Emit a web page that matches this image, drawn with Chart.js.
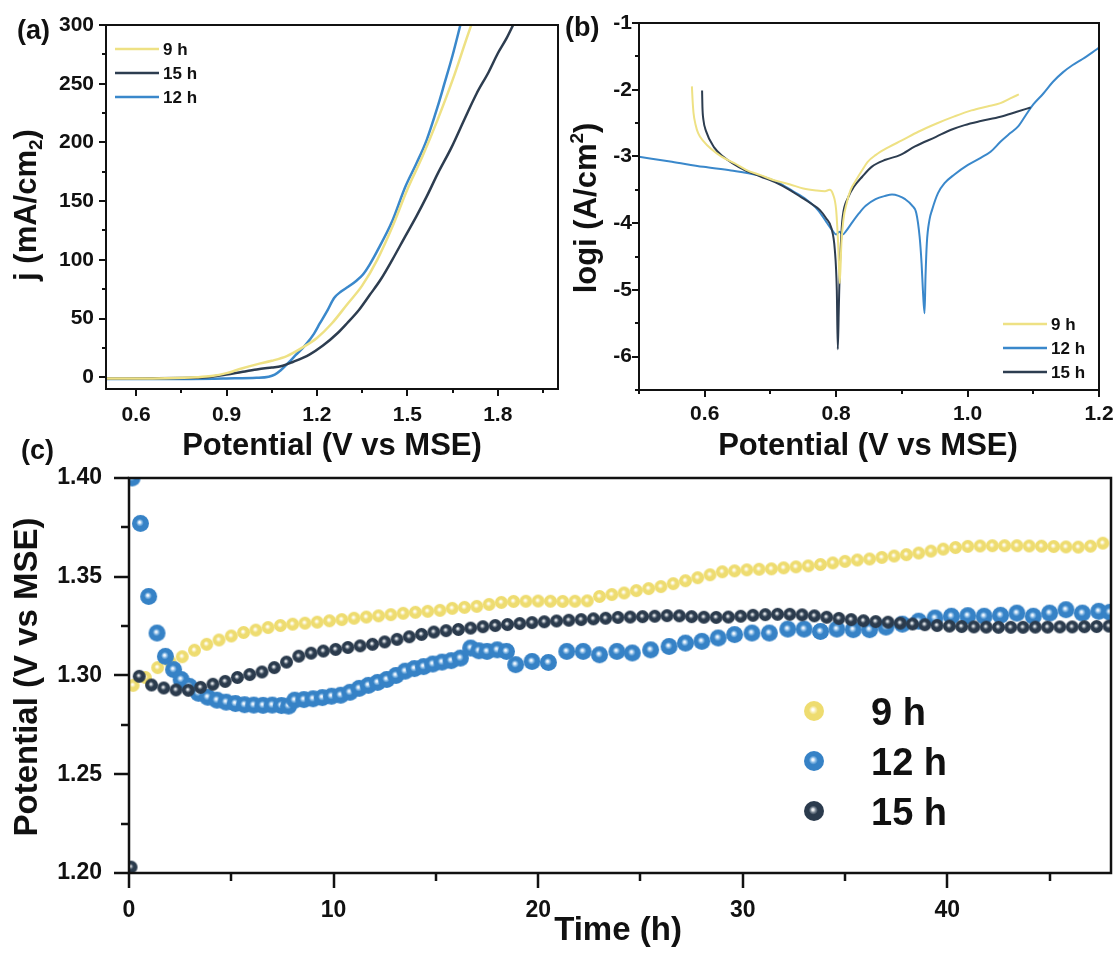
<!DOCTYPE html>
<html><head><meta charset="utf-8">
<script src="https://cdn.jsdelivr.net/npm/chart.js@4.4.1/dist/chart.umd.min.js"></script>
<style>
body{margin:0;background:#fff;width:1115px;height:956px;position:relative;overflow:hidden;font-family:"Liberation Sans",Arial,sans-serif;}
canvas{position:absolute;}
.lab{position:absolute;font-weight:bold;font-size:27px;color:#111;line-height:1;}
</style></head><body>
<canvas id="ca" width="562" height="470" style="left:0;top:0"></canvas>
<canvas id="cb" width="553" height="470" style="left:562px;top:0"></canvas>
<canvas id="cc" width="1120" height="494" style="left:0;top:462px"></canvas>
<div class="lab" style="left:17px;top:17px">(a)</div>
<div class="lab" style="left:565px;top:14px">(b)</div>
<div class="lab" style="left:21px;top:437px">(c)</div>
<script>
// ---------- Panel (a): LSV, j (mA/cm2) vs potential ----------
const lsvV9  = [0.5,0.6,0.7,0.8,0.85,0.9,0.95,1.0,1.05,1.1,1.15,1.2,1.25,1.3,1.35,1.4,1.45,1.5,1.55,1.6,1.65,1.7,1.715];
const lsvJ9  = [-1,-1,-0.8,0,1,3.5,7.5,11,14,18,25,33.5,46,62,78,100,128,160,188,219,253,291,302];
const lsvV15 = [0.5,0.8,0.85,0.9,0.95,1.0,1.05,1.08,1.12,1.175,1.22,1.269,1.3,1.34,1.375,1.411,1.45,1.493,1.53,1.564,1.6,1.647,1.69,1.73,1.77,1.8,1.83,1.855];
const lsvJ15 = [-1,-0.5,0.5,2.3,4.5,6.6,8.3,9.3,13,19.3,27,37.7,46,57.5,70,83,100,120,137,153.8,173,196,220,241.7,260,275.7,289,302];
const lsvV12 = [0.5,0.7,0.9,1.0,1.04,1.06,1.08,1.104,1.13,1.163,1.19,1.21,1.235,1.257,1.28,1.305,1.33,1.352,1.375,1.399,1.45,1.493,1.53,1.564,1.6,1.623,1.65,1.678];
const lsvJ12 = [-1.5,-1.5,-1,-0.5,0.5,2.3,6,12,19,27.8,37,46,57,67.5,73,77.3,82,87.3,96,107,133,162,182,202,230,250,274,302];

// ---------- Panel (b): Tafel, logi vs potential ----------
const tafV9  = [0.5805,0.5815,0.583,0.586,0.59,0.598,0.61,0.625,0.645,0.663,0.685,0.707,0.73,0.75,0.77,0.783,0.79,0.795,0.8,0.803,0.8055,0.808,0.811,0.816,0.822,0.83,0.84,0.848,0.86,0.88,0.9,0.925,0.952,0.98,1.006,1.03,1.05,1.065,1.078];
const tafL9  = [-1.95,-2.15,-2.35,-2.52,-2.65,-2.77,-2.89,-3.0,-3.1,-3.2,-3.28,-3.36,-3.42,-3.48,-3.51,-3.52,-3.5,-3.56,-3.8,-4.3,-4.9,-4.3,-3.95,-3.7,-3.5,-3.36,-3.2,-3.08,-2.98,-2.86,-2.76,-2.63,-2.51,-2.4,-2.31,-2.25,-2.2,-2.13,-2.07];
const tafV12 = [0.5,0.55,0.598,0.64,0.68,0.71,0.734,0.755,0.772,0.785,0.795,0.8,0.805,0.81,0.815,0.825,0.835,0.845,0.86,0.875,0.885,0.895,0.905,0.915,0.922,0.927,0.93,0.932,0.9345,0.936,0.938,0.942,0.946,0.955,0.965,0.98,1.0,1.02,1.035,1.05,1.065,1.077,1.09,1.1,1.115,1.13,1.145,1.16,1.175,1.19,1.2];
const tafL12 = [-3.006,-3.08,-3.156,-3.21,-3.28,-3.38,-3.52,-3.65,-3.8,-3.98,-4.12,-4.17,-4.13,-4.17,-4.12,-3.98,-3.85,-3.74,-3.64,-3.59,-3.57,-3.59,-3.64,-3.73,-3.85,-4.2,-4.6,-5.0,-5.35,-4.8,-4.3,-3.95,-3.8,-3.55,-3.4,-3.27,-3.13,-3.02,-2.93,-2.78,-2.65,-2.55,-2.36,-2.22,-2.06,-1.88,-1.74,-1.63,-1.54,-1.44,-1.37];
const tafV15 = [0.596,0.5965,0.598,0.602,0.614,0.628,0.642,0.66,0.685,0.71,0.729,0.745,0.761,0.775,0.785,0.793,0.798,0.801,0.8025,0.804,0.8055,0.808,0.81,0.818,0.827,0.84,0.854,0.875,0.897,0.92,0.952,0.975,0.9955,1.02,1.05,1.075,1.096];
const tafL15 = [-2.01,-2.25,-2.45,-2.62,-2.86,-3.0,-3.1,-3.2,-3.3,-3.4,-3.5,-3.6,-3.7,-3.8,-3.93,-4.08,-4.4,-5.0,-5.89,-5.3,-4.7,-4.15,-3.9,-3.62,-3.455,-3.3,-3.156,-3.05,-2.98,-2.85,-2.706,-2.6,-2.53,-2.47,-2.406,-2.33,-2.266];

// ---------- Panel (c): potential vs time ----------
const time9 = [0.2,0.8,1.4,2.0,2.6,3.2,3.8,4.4,5.0,5.6,6.2,6.8,7.4,8.0,8.6,9.2,9.8,10.4,11.0,11.6,12.2,12.8,13.4,14.0,14.6,15.2,15.8,16.4,17.0,17.6,18.2,18.8,19.4,20.0,20.6,21.2,21.8,22.4,23.0,23.6,24.2,24.8,25.4,26.0,26.6,27.2,27.8,28.4,29.0,29.6,30.2,30.8,31.4,32.0,32.6,33.2,33.8,34.4,35.0,35.6,36.2,36.8,37.4,38.0,38.6,39.2,39.8,40.4,41.0,41.6,42.2,42.8,43.4,44.0,44.6,45.2,45.8,46.4,47.0,47.6];
const pot9 = [1.295,1.299,1.304,1.307,1.3095,1.3128,1.3158,1.318,1.320,1.3218,
  1.323,1.3243,1.3253,1.326,1.3265,1.327,1.3277,1.3283,1.329,1.3296,
  1.3302,1.3308,1.3315,1.332,1.3325,1.333,1.334,1.3345,1.335,1.336,
  1.337,1.3375,1.3376,1.3377,1.3376,1.3375,1.3376,1.3378,1.340,1.341,
  1.3418,1.343,1.344,1.345,1.3465,1.348,1.3495,1.351,1.3525,1.353,
  1.3535,1.3538,1.354,1.3545,1.355,1.3555,1.3562,1.357,1.3578,1.3585,
  1.359,1.3598,1.3605,1.3612,1.362,1.363,1.364,1.3648,1.3654,1.3656,
  1.3657,1.3657,1.3657,1.3656,1.3655,1.3653,1.3651,1.365,1.3655,1.367];
const time12 = [0.15,0.56,0.96,1.37,1.78,2.18,2.55,2.95,3.4,3.85,4.3,4.75,5.2,5.65,6.1,6.55,7.0,7.45,7.8,8.1,8.55,9.0,9.45,9.9,10.35,10.8,11.25,11.7,12.15,12.6,13.05,13.5,13.95,14.4,14.85,15.3,15.75,16.2,16.7,17.1,17.5,18.0,18.45,18.9,19.7,20.5,21.4,22.2,23.0,23.85,24.6,25.5,26.4,27.2,28.0,28.8,29.6,30.45,31.3,32.2,33.0,33.8,34.6,35.4,36.2,37.0,37.8,38.6,39.4,40.2,41.0,41.8,42.6,43.4,44.2,45.0,45.8,46.6,47.4,47.95];
const pot12 = [1.400,1.377,1.340,1.3215,1.3097,1.303,1.298,1.2945,1.291,1.289,
  1.2875,1.2865,1.2858,1.2852,1.285,1.2849,1.285,1.2848,1.2845,1.2875,
  1.2878,1.2882,1.2888,1.2895,1.29,1.2915,1.2935,1.295,1.2965,1.298,
  1.30,1.3022,1.3035,1.3045,1.3058,1.3068,1.3075,1.3088,1.3139,1.3125,
  1.3122,1.313,1.3122,1.3055,1.3071,1.3066,1.3122,1.3122,1.3105,1.3122,
  1.3114,1.313,1.3147,1.3164,1.3173,1.319,1.3207,1.3215,1.3215,1.3235,
  1.3235,1.3223,1.3235,1.3232,1.3232,1.3245,1.326,1.3275,1.3291,1.33,
  1.3303,1.33,1.3305,1.3316,1.33,1.3316,1.3333,1.3316,1.3325,1.332];
const time15 = [0.1,0.5,1.1,1.7,2.3,2.9,3.5,4.1,4.7,5.3,5.9,6.5,7.1,7.7,8.3,8.9,9.5,10.1,10.7,11.3,11.9,12.5,13.1,13.7,14.3,14.9,15.5,16.1,16.7,17.3,17.9,18.5,19.1,19.7,20.3,20.9,21.5,22.1,22.7,23.3,23.9,24.5,25.1,25.7,26.3,26.9,27.5,28.1,28.7,29.3,29.9,30.5,31.1,31.7,32.3,32.9,33.5,34.1,34.7,35.3,35.9,36.5,37.1,37.7,38.3,38.9,39.5,40.1,40.7,41.3,41.9,42.5,43.1,43.7,44.3,44.9,45.5,46.1,46.7,47.3,47.9];
const pot15 = [1.203,1.2996,
  1.2952,1.2937,1.2927,1.2925,1.294,1.2956,1.297,1.299,1.3005,1.3018,
  1.304,1.3068,1.3098,1.3113,1.3124,1.3132,1.3142,1.315,1.3158,1.317,
  1.3183,1.3196,1.3208,1.322,1.3227,1.3233,1.324,1.3247,1.3253,1.3258,
  1.3263,1.3268,1.3272,1.3276,1.328,1.3283,1.3287,1.329,1.3294,1.3296,
  1.3298,1.33,1.3303,1.3302,1.3298,1.3295,1.3294,1.3296,1.33,1.3305,
  1.3308,1.331,1.331,1.3307,1.3302,1.3295,1.3289,1.3283,1.3277,1.3273,
  1.327,1.3265,1.3261,1.3257,1.3253,1.325,1.3248,1.3246,1.3245,1.3244,
  1.3244,1.3244,1.3245,1.3245,1.3246,1.3246,1.3247,1.3248,1.325];

// ---------- Ticks ----------
const aXTicks = [0.6,0.9,1.2,1.5,1.8], aXMinor = [0.75,1.05,1.35,1.65,1.95];
const aYTicks = [0,50,100,150,200,250,300], aYMinor = [25,75,125,175,225,275];
const bXTicks = [0.6,0.8,1.0,1.2], bXMinor = [0.5,0.7,0.9,1.1];
const bYTicks = [-6,-5,-4,-3,-2,-1], bYMinor = [-6.5,-5.5,-4.5,-3.5,-2.5,-1.5];
const cXTicks = [0,10,20,30,40], cXMinor = [5,15,25,35,45];
const cYTicks = [1.20,1.25,1.30,1.35,1.40], cYMinor = [1.225,1.275,1.325,1.375];

const seriesNames = ['9 h','12 h','15 h'];
const COL = {y:'#EEE184', b:'#3A88CB', d:'#2D3D50'};
const FF = '"Liberation Sans", Arial, sans-serif';
const TXT = '#111';

function pts(xs, ys){ return xs.map((x,i)=>({x:x, y:ys[i]})); }

function sphere(r, base, mid, hi){
  const s = Math.ceil(2*r+2), c = document.createElement('canvas');
  c.width = c.height = s;
  const g = c.getContext('2d'), cx = s/2, cy = s/2;
  const gr = g.createRadialGradient(cx-0.12*r, cy-0.15*r, 0, cx, cy, r);
  gr.addColorStop(0, hi); gr.addColorStop(0.09, hi); gr.addColorStop(0.27, mid); gr.addColorStop(0.45, base); gr.addColorStop(1, base);
  g.fillStyle = gr; g.beginPath(); g.arc(cx, cy, r, 0, Math.PI*2); g.fill();
  return c;
}

function drawRich(ctx, parts, x, y, size, rot){
  ctx.save();
  ctx.translate(x, y);
  if (rot) ctx.rotate(-Math.PI/2);
  ctx.textAlign = 'left'; ctx.textBaseline = 'alphabetic'; ctx.fillStyle = TXT;
  let w = 0;
  parts.forEach(p => { ctx.font = 'bold ' + (p.s||size) + 'px ' + FF; p.w = ctx.measureText(p.t).width; w += p.w; });
  let cx = -w/2;
  parts.forEach(p => { ctx.font = 'bold ' + (p.s||size) + 'px ' + FF; ctx.fillText(p.t, cx, p.dy||0); cx += p.w; });
  ctx.restore();
}

function decor(o){
  return {
    id: 'decor',
    afterDraw(chart){
      const ctx = chart.ctx, a = chart.chartArea, xs = chart.scales.x, ys = chart.scales.y;
      ctx.save();
      ctx.strokeStyle = TXT; ctx.lineWidth = o.fw; ctx.lineCap = 'butt';
      ctx.strokeRect(a.left, a.top, a.right - a.left, a.bottom - a.top);
      ctx.beginPath();
      const xt = (v, L) => { const p = Math.round(xs.getPixelForValue(v)); ctx.moveTo(p, a.bottom); ctx.lineTo(p, a.bottom + L); };
      const yt = (v, L) => { const p = Math.round(ys.getPixelForValue(v)); ctx.moveTo(a.left, p); ctx.lineTo(a.left - L, p); };
      o.xM.forEach(v => xt(v, o.ML)); o.xm.forEach(v => xt(v, o.mL));
      o.yM.forEach(v => yt(v, o.ML)); o.ym.forEach(v => yt(v, o.mL));
      ctx.stroke();
      ctx.restore();
      o.titles(ctx);
      if (o.legend) o.legend(ctx);
    }
  };
}

function scaleOpts(min, max, ticks, fmt, size, pad, fit, isX){
  return {
    type: 'linear', min: min, max: max,
    afterBuildTicks: s => { s.ticks = ticks.map(v => ({value: v})); },
    afterFit: s => {
      if (isX) s.height = fit; else s.width = fit;
      s.paddingTop = 0; s.paddingBottom = 0; s.paddingLeft = 0; s.paddingRight = 0;
    },
    grid: {display: false, drawTicks: false},
    border: {display: false},
    ticks: {font: {family: FF, size: size, weight: 'bold'}, color: TXT, padding: pad, autoSkip: false, maxRotation: 0, callback: v => fmt(v)}
  };
}

function lineDS(label, xs, ys, color, w){
  return {label: label, data: pts(xs, ys), showLine: true, borderColor: color, backgroundColor: color, borderWidth: w, pointRadius: 0, cubicInterpolationMode: 'monotone'};
}

const base = {responsive: false, animation: false, events: [], plugins: {legend: {display: false}, tooltip: {enabled: false}}};

// ---- Chart (a)
new Chart(document.getElementById('ca'), {
  type: 'scatter',
  data: {datasets: [
    lineDS('9 h', lsvV9, lsvJ9, COL.y, 2.5),
    lineDS('15 h', lsvV15, lsvJ15, COL.d, 2.5),
    lineDS('12 h', lsvV12, lsvJ12, COL.b, 2.5)
  ]},
  options: Object.assign({}, base, {
    layout: {padding: {top: 25, right: 4, left: 0, bottom: 0}},
    scales: {
      x: scaleOpts(0.5, 2.0, aXTicks, v => v.toFixed(1), 21, 14, 81, true),
      y: scaleOpts(-10, 300, aYTicks, v => String(v), 21, 12, 106, false)
    }
  }),
  plugins: [decor({fw: 2, ML: 7, mL: 4, xM: aXTicks, xm: aXMinor, yM: aYTicks, ym: aYMinor,
    titles: ctx => {
      drawRich(ctx, [{t: 'Potential (V vs MSE)'}], 332, 455, 31, false);
      drawRich(ctx, [{t: 'j (mA/cm'}, {t: '2', s: 19, dy: 6}, {t: ')'}], 36, 205, 31, true);
    },
    legend: ctx => {
      const items = [['9 h', COL.y], ['15 h', COL.d], ['12 h', COL.b]];
      ctx.save();
      items.forEach((it, i) => {
        const y = 49 + i*24;
        ctx.strokeStyle = it[1]; ctx.lineWidth = 2.5; ctx.beginPath(); ctx.moveTo(115, y); ctx.lineTo(159, y); ctx.stroke();
        ctx.fillStyle = TXT; ctx.font = 'bold 17px ' + FF; ctx.textBaseline = 'alphabetic'; ctx.fillText(it[0], 163, y + 6);
      });
      ctx.restore();
    }
  })]
});

// ---- Chart (b)
new Chart(document.getElementById('cb'), {
  type: 'scatter',
  data: {datasets: [
    lineDS('9 h', tafV9, tafL9, COL.y, 2),
    lineDS('15 h', tafV15, tafL15, COL.d, 2),
    lineDS('12 h', tafV12, tafL12, COL.b, 2)
  ]},
  options: Object.assign({}, base, {
    layout: {padding: {top: 23, right: 16, left: 0, bottom: 0}},
    scales: {
      x: scaleOpts(0.5, 1.2, bXTicks, v => v.toFixed(1), 21, 12, 80, true),
      y: scaleOpts(-6.5, -1, bYTicks, v => String(v), 21, 7, 77, false)
    }
  }),
  plugins: [decor({fw: 2, ML: 7, mL: 4, xM: bXTicks, xm: bXMinor, yM: bYTicks, ym: bYMinor,
    titles: ctx => {
      drawRich(ctx, [{t: 'Potential (V vs MSE)'}], 306, 455, 31, false);
      drawRich(ctx, [{t: 'logi (A/cm'}, {t: '2', s: 19, dy: -13}, {t: ')'}], 34, 208, 31, true);
    },
    legend: ctx => {
      const items = [['9 h', COL.y], ['12 h', COL.b], ['15 h', COL.d]];
      ctx.save();
      items.forEach((it, i) => {
        const y = 324 + i*24;
        ctx.strokeStyle = it[1]; ctx.lineWidth = 2.5; ctx.beginPath(); ctx.moveTo(441, y); ctx.lineTo(485, y); ctx.stroke();
        ctx.fillStyle = TXT; ctx.font = 'bold 17px ' + FF; ctx.textBaseline = 'alphabetic'; ctx.fillText(it[0], 489, y + 6);
      });
      ctx.restore();
    }
  })]
});

// ---- Chart (c)
const sphY = sphere(6.5, '#EEDC70', '#F7EDB2', '#FFFFFF');
const sphB = sphere(8.5, '#3682C6', '#86B9E4', '#F4F9FF');
const sphD = sphere(6.5, '#2B3B4D', '#7A8693', '#EEF0F2');
const sphYL = sphere(10, '#EEDC70', '#F7EDB2', '#FFFFFF');
const sphBL = sphere(10, '#3682C6', '#86B9E4', '#F4F9FF');
const sphDL = sphere(10, '#2B3B4D', '#7A8693', '#EEF0F2');

function dotDS(label, xs, ys, img, r, order){
  return {label: label, data: pts(xs, ys), showLine: false, pointStyle: img, pointRadius: r, order: order, clip: 0};
}

new Chart(document.getElementById('cc'), {
  type: 'scatter',
  data: {datasets: [
    dotDS('9 h', time9, pot9, sphY, 6, 2),
    dotDS('12 h', time12, pot12, sphB, 8, 1),
    dotDS('15 h', time15, pot15, sphD, 6, 0)
  ]},
  options: Object.assign({}, base, {
    layout: {padding: {top: 16, right: 4, left: 0, bottom: 0}},
    scales: {
      x: scaleOpts(0, 48, cXTicks, v => String(v), 23, 24, 83, true),
      y: scaleOpts(1.2, 1.4, cYTicks, v => v.toFixed(2), 23, 27, 129, false)
    }
  }),
  plugins: [decor({fw: 2.5, ML: 15, mL: 8, xM: cXTicks, xm: cXMinor, yM: cYTicks, ym: cYMinor,
    titles: ctx => {
      drawRich(ctx, [{t: 'Time (h)'}], 618, 478, 33, false);
      drawRich(ctx, [{t: 'Potential (V vs MSE)'}], 37, 215, 33, true);
    },
    legend: ctx => {
      const items = [[seriesNames[0], sphYL], [seriesNames[1], sphBL], [seriesNames[2], sphDL]];
      ctx.save();
      items.forEach((it, i) => {
        const y = 249 + i*50;
        ctx.drawImage(it[1], 814 - it[1].width/2, y - it[1].height/2);
        ctx.fillStyle = TXT; ctx.font = 'bold 38px ' + FF; ctx.textBaseline = 'alphabetic'; ctx.fillText(it[0], 871, y + 14);
      });
      ctx.restore();
    }
  })]
});
</script>
</body></html>
